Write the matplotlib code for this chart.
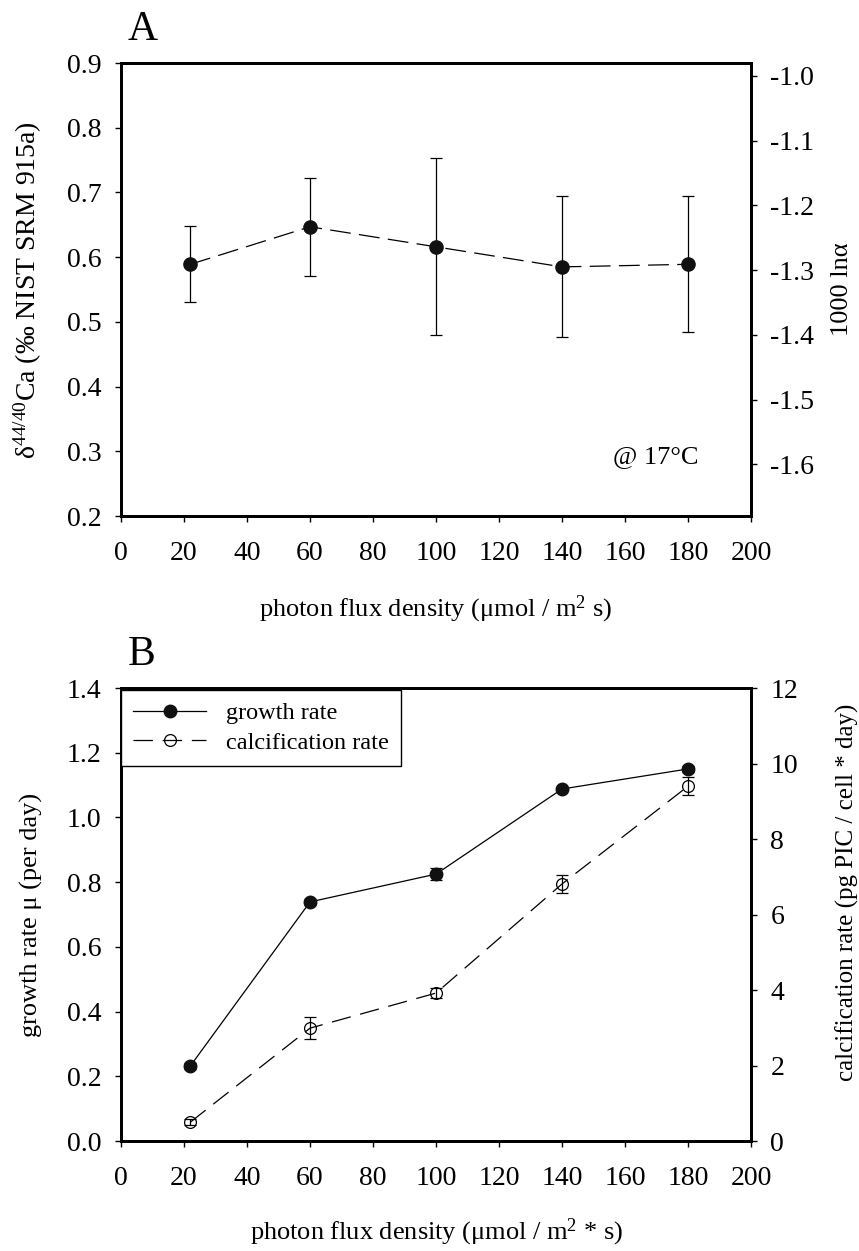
import numpy as np
import matplotlib
matplotlib.use('Agg')
import matplotlib.pyplot as plt

plt.rcParams['font.family'] = ['Liberation Serif', 'DejaVu Serif']
plt.rcParams['mathtext.fontset'] = 'custom'
plt.rcParams['mathtext.rm'] = 'Liberation Serif'
plt.rcParams['mathtext.it'] = 'Liberation Serif'
plt.rcParams['axes.unicode_minus'] = False
plt.rcParams['lines.scale_dashes'] = False

# Panel A: delta 44/40 Ca vs light
light = [22, 60, 100, 140, 180]
delta_ca = [0.589, 0.647, 0.616, 0.585, 0.589]
delta_err = [0.059, 0.076, 0.137, 0.109, 0.105]

# Panel B: growth and calcification rate vs light
growth = [0.232, 0.739, 0.825, 1.088, 1.150]
growth_err = [0.008, 0.008, 0.019, 0.006, 0.010]
calc = [0.50, 2.99, 3.92, 6.81, 9.40]
calc_err = [0.08, 0.29, 0.13, 0.24, 0.24]

x_ticks = list(range(0, 201, 20))

fig = plt.figure(figsize=(8.59, 12.51), dpi=100)

tick_fs = 20
label_fs = 19


def style_axis(ax):
    for s in ax.spines.values():
        s.set_linewidth(2.0)
    ax.tick_params(direction='out', length=4, width=1.0, labelsize=tick_fs)
    ax.tick_params(axis='x', pad=14)
    ax.tick_params(axis='y', pad=10)


# ---------- panel A ----------
axA = fig.add_axes([0.1409, 0.5875, 0.7334, 0.3621])
axA.errorbar(light, delta_ca, yerr=delta_err, color='black', lw=0.9,
             marker='o', ms=9.5, mfc='#111111', mec='#111111',
             ecolor='black', elinewidth=0.9, capsize=4.3, capthick=0.9,
             dashes=(15, 6))
axA.set_xlim(0, 200)
axA.set_ylim(0.2, 0.9)
axA.set_xticks(x_ticks)
axA.set_yticks(np.arange(0.2, 0.91, 0.1))
axA.set_yticklabels([f'{v:.1f}' for v in np.arange(0.2, 0.91, 0.1)])
style_axis(axA)
axA.set_ylabel('δ$^{44/40}$Ca (‰ NIST SRM 915a)', fontsize=20)
axA.yaxis.set_label_coords(-0.122, 0.5)
axA.set_xlabel('photon flux density (μmol / m$^2$ s)', fontsize=label_fs)
axA.xaxis.set_label_coords(0.5, -0.172)
axA.text(0.917, 0.13, '@ 17°C', transform=axA.transAxes, ha='right', va='center',
         fontsize=label_fs)
axA.text(0.01, 1.03, 'A', transform=axA.transAxes, ha='left', va='bottom', fontsize=30)

axA2 = axA.twinx()
axA2.set_ylim(0.2 - 1.88, 0.9 - 1.88)
axA2.set_yticks(np.arange(-1.6, -0.95, 0.1))
axA2.set_yticklabels([f'{v:.1f}' for v in np.arange(-1.6, -0.95, 0.1)])
style_axis(axA2)
axA2.set_ylabel('1000 lnα', fontsize=label_fs)
axA2.yaxis.set_label_coords(1.127, 0.5)

# ---------- panel B ----------
axB = fig.add_axes([0.1409, 0.0879, 0.7334, 0.3621])
axB2 = axB.twinx()
gline = axB.errorbar(light, growth, yerr=growth_err, color='black', lw=0.9,
                     marker='o', ms=9, mfc='#111111', mec='#111111',
                     ecolor='black', elinewidth=0.9, capsize=4.3, capthick=0.9,
                     label='growth rate')
cline = axB2.errorbar(light, calc, yerr=calc_err, color='black', lw=0.9,
                      marker='o', ms=8.5, mfc='none', mec='black', mew=0.9,
                      ecolor='black', elinewidth=0.9, capsize=4.3, capthick=0.9,
                      dashes=(14, 7), label='calcification rate')
axB.set_xlim(0, 200)
axB.set_ylim(0, 1.4)
axB.set_xticks(x_ticks)
axB.set_yticks(np.arange(0, 1.41, 0.2))
axB.set_yticklabels([f'{v:.1f}' for v in np.arange(0, 1.41, 0.2)])
axB2.set_ylim(0, 12)
axB2.set_yticks(range(0, 13, 2))
style_axis(axB)
style_axis(axB2)
axB.set_ylabel('growth rate μ (per day)', fontsize=label_fs)
axB.yaxis.set_label_coords(-0.124, 0.5)
axB2.set_ylabel('calcification rate (pg PIC / cell * day)', fontsize=18)
axB2.yaxis.set_label_coords(1.135, 0.55)
axB.set_xlabel('photon flux density (μmol / m$^2$ * s)', fontsize=label_fs)
axB.xaxis.set_label_coords(0.5, -0.168)
axB.text(0.01, 1.03, 'B', transform=axB.transAxes, ha='left', va='bottom', fontsize=30)

handles = [gline.lines[0], cline.lines[0]]
leg = axB2.legend(handles, ['growth rate', 'calcification rate'], loc='upper left',
                  bbox_to_anchor=(0.0, 0.995), borderaxespad=0.0, fontsize=17.5,
                  frameon=True, fancybox=False, edgecolor='black', framealpha=1,
                  handlelength=3.0, handletextpad=0.8, borderpad=0.5,
                  labelspacing=0.3)
leg.get_frame().set_linewidth(1.0)

plt.savefig('out.png', dpi=100)
